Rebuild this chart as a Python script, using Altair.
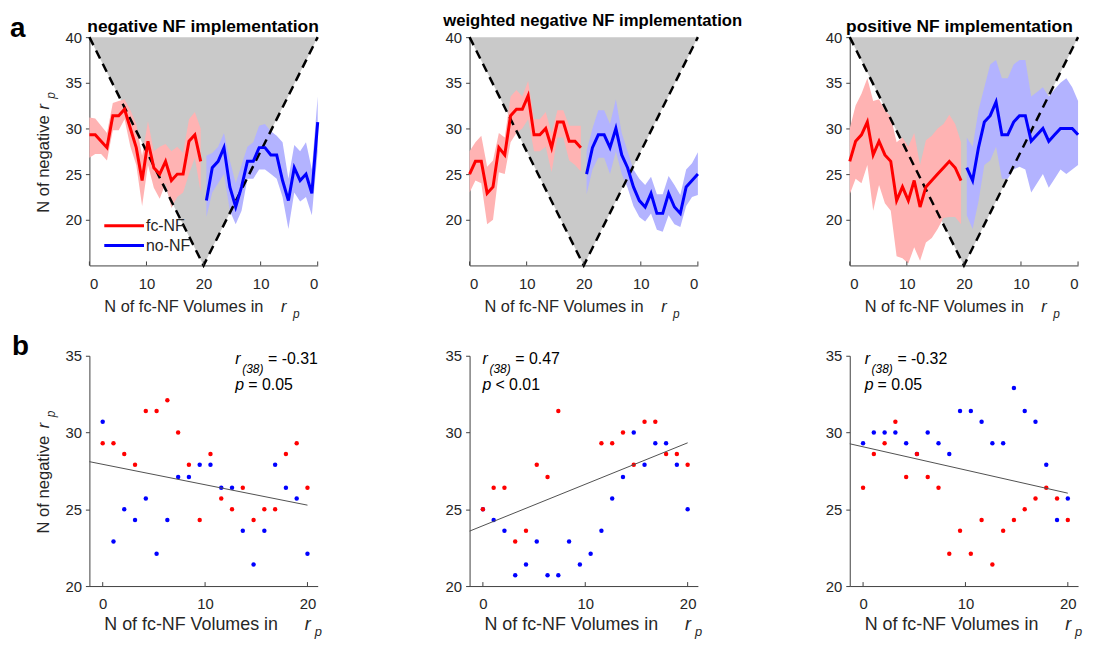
import altair as alt
import pandas as pd

FONT = "Liberation Sans"
TXT = "#262626"
AXC = "#404040"
RED_C, BLUE_C = "#ff0000", "#0000ff"
PINK, LBLUE = "#ffb3b3", "#b3b3ff"
GRAY = "#c9c9c9"

TITLES = ["negative NF implementation", "weighted negative NF implementation", "positive NF implementation"]
TITLE_CENTER = [114.5, 124, 110.5]
TITLE_SIZE = [17.5, 16.8, 17.5]
TITLE_BASE = [-5, -11, -5]
X_LABEL = "N of fc-NF Volumes in"
Y_LABEL = "N of negative"
R_STAT = ["= -0.31", "= 0.47", "= -0.32"]
P_STAT = ["= 0.05", "< 0.01", "= 0.05"]
FIT_SLOPE = [-0.133, 0.270, -0.151]
FIT_INTERCEPT = [27.93, 23.93, 29.07]
SCATTER_HIDDEN_RED = [[], [8, 9, 10], []]

# values indexed by N of fc-NF volumes (20 steps)
RED = [
    [29.3, 29.3, 28.6, 27.9, 31.4, 31.4, 32.1, 30.0, 27.9, 24.3, 28.6, 25.7, 25.0, 26.4, 24.3, 25.0, 25.0, 28.6, 29.3, 26.4],
    [25.0, 26.4, 26.4, 22.9, 23.6, 27.9, 27.1, 31.4, 32.1, 32.1, 33.6, 29.3, 29.3, 30.0, 27.9, 30.7, 30.7, 28.6, 28.6, 27.9],
    [26.4, 28.6, 29.3, 30.7, 27.1, 28.6, 27.1, 26.4, 22.1, 23.6, 22.1, 24.3, 21.4, 23.6, 24.3, 25.0, 25.7, 26.4, 25.7, 24.3],
]
BLUE = [
    [30.7, 22.9, 25.0, 24.3, 25.7, 22.1, 24.3, 27.1, 27.1, 27.9, 27.9, 26.4, 26.4, 23.6, 21.4, 23.6, 27.9, 26.4, 25.7, 22.1],
    [25.0, 24.3, 23.6, 20.7, 21.4, 22.9, 20.7, 20.7, 22.9, 21.4, 22.1, 23.6, 25.7, 27.1, 30.0, 27.9, 29.3, 29.3, 27.9, 25.0],
    [29.3, 30.0, 30.0, 30.0, 29.3, 28.6, 30.0, 29.3, 28.6, 31.4, 31.4, 30.7, 29.3, 29.3, 32.9, 31.4, 30.7, 27.9, 24.3, 25.7],
]
RED_HI = [
    [31.2, 31.1, 30.3, 29.5, 32.8, 33.0, 33.2, 32.0, 30.5, 27.0, 30.8, 27.5, 28.0, 28.3, 27.5, 28.0, 27.3, 31.0, 31.8, 30.0],
    [27.5, 28.5, 29.2, 25.8, 26.5, 29.5, 29.0, 33.5, 34.2, 33.5, 35.2, 31.0, 31.0, 31.8, 29.5, 32.0, 32.0, 30.3, 30.3, 30.3],
    [30.0, 32.5, 33.8, 35.5, 33.0, 33.2, 32.0, 31.3, 28.5, 29.0, 28.0, 29.5, 26.0, 28.7, 29.2, 30.0, 30.5, 31.5, 30.5, 28.5],
]
RED_LO = [
    [26.8, 27.2, 27.2, 26.5, 29.8, 29.8, 31.0, 28.0, 26.0, 21.5, 26.0, 23.5, 22.3, 24.0, 21.3, 22.5, 23.0, 25.0, 26.8, 23.0],
    [23.0, 24.3, 24.0, 19.5, 20.0, 25.2, 25.0, 28.5, 29.5, 30.0, 31.0, 27.5, 27.5, 28.0, 25.2, 29.0, 29.0, 26.5, 26.0, 25.3],
    [22.8, 24.5, 24.0, 26.0, 21.0, 23.8, 21.8, 21.0, 16.0, 15.8, 15.2, 17.0, 15.5, 17.5, 18.0, 19.0, 20.2, 20.3, 20.3, 19.5],
]
BLUE_HI = [
    [33.5, 25.5, 28.5, 27.5, 28.2, 24.5, 28.5, 29.2, 29.7, 30.5, 30.3, 28.5, 28.0, 26.0, 24.0, 26.5, 29.5, 28.0, 27.3, 27.0],
    [27.4, 26.2, 25.5, 22.7, 23.8, 24.8, 22.8, 22.8, 24.7, 23.8, 24.5, 25.5, 27.5, 29.5, 33.2, 30.5, 32.0, 32.0, 30.0, 27.5],
    [33.0, 34.5, 35.5, 35.0, 34.3, 33.5, 34.5, 34.0, 33.5, 37.5, 37.5, 37.0, 35.5, 35.5, 37.5, 37.0, 34.5, 32.0, 28.0, 29.0],
]
BLUE_LO = [
    [27.5, 20.5, 22.5, 22.0, 23.0, 19.0, 22.5, 24.5, 25.0, 25.5, 25.5, 24.5, 24.5, 21.0, 19.5, 21.0, 25.0, 24.0, 23.0, 20.3],
    [22.7, 22.5, 21.5, 19.2, 19.5, 20.5, 18.7, 18.9, 20.7, 19.8, 20.3, 21.5, 23.5, 25.0, 27.5, 25.0, 26.8, 26.8, 25.5, 22.8],
    [26.0, 25.5, 25.0, 25.5, 24.5, 23.5, 25.0, 24.0, 23.0, 25.5, 25.8, 25.5, 24.5, 24.5, 28.0, 26.5, 26.0, 22.0, 19.0, 20.5],
]

V_X = [0, 20, 40]
V_Y = [40, 15, 40]
V_TOP = 40
TOP_XTICKS = [0, 10, 20, 30, 40]
TOP_YTICKS = [20, 25, 30, 35, 40]
BOT_XTICKS = [0, 10, 20]
BOT_YTICKS = [20, 25, 30, 35]

W = 230
HT = 230
HB = 232
ONE = pd.DataFrame({"k": [0]})


def txt(s, x, y, size=15.0, style="normal", weight="normal", angle=0, align="left",
        baseline="alphabetic", color=TXT):
    kw = dict(text=s, font=FONT, fontSize=size, fontStyle=style, fontWeight=weight,
              align=align, baseline=baseline, color=color)
    if angle:
        kw["angle"] = angle
    return alt.Chart(ONE).mark_text(**kw).encode(x=alt.value(x), y=alt.value(y))


def ytitle(h):
    return [
        txt(Y_LABEL, -41, h - 53, size=16.7, angle=270),
        txt("r", -41, 73, size=16.7, style="italic", angle=270),
        txt("p", -35, 62, size=12, style="italic", angle=270),
    ]


def top_panel(k):
    XS = alt.Scale(domain=[0, 40], nice=False, zero=False)
    YS = alt.Scale(domain=[15, 40], nice=False, zero=False)
    XAX = alt.Axis(values=TOP_XTICKS, labelExpr="datum.value <= 20 ? datum.value : 40 - datum.value",
                   tickSize=0, labelPadding=11, title=None)
    YAX = alt.Axis(values=TOP_YTICKS, tickSize=4, labelPadding=4, title=None)

    vdf = pd.DataFrame({"x": V_X, "y": V_Y, "top": [V_TOP] * len(V_X)})
    rows = []
    for i in range(len(RED[k])):
        rows.append({"i": i, "g": "fc-NF", "v": RED[k][i], "lo": RED_LO[k][i], "hi": RED_HI[k][i]})
        rows.append({"i": i, "g": "no-NF", "v": BLUE[k][i], "lo": BLUE_LO[k][i], "hi": BLUE_HI[k][i]})
    df = pd.DataFrame(rows)
    base = alt.Chart(df).transform_calculate(
        xp="datum.g == 'fc-NF' ? datum.i * 19.5 / 19 : 40 - datum.i * 19.5 / 19")

    layers = [
        alt.Chart(vdf).mark_area(color=GRAY).encode(
            x=alt.X("x:Q", scale=XS, axis=XAX), y=alt.Y("y:Q", scale=YS, axis=YAX), y2="top:Q")
    ]
    for g, c in [("fc-NF", PINK), ("no-NF", LBLUE)]:
        layers.append(base.transform_filter(f"datum.g == '{g}'").mark_area(color=c).encode(
            x=alt.X("xp:Q", scale=XS, axis=XAX), y=alt.Y("lo:Q", scale=YS, axis=YAX), y2="hi:Q"))
    layers.append(alt.Chart(vdf).mark_line(color="black", strokeWidth=2.5, strokeDash=[9, 6]).encode(
        x=alt.X("x:Q", scale=XS, axis=XAX), y=alt.Y("y:Q", scale=YS, axis=YAX)))
    for g, c in [("fc-NF", RED_C), ("no-NF", BLUE_C)]:
        layers.append(base.transform_filter(f"datum.g == '{g}'").mark_line(color=c, strokeWidth=3).encode(
            x=alt.X("xp:Q", scale=XS, axis=XAX), y=alt.Y("v:Q", scale=YS, axis=YAX)))
    layers.append(alt.Chart(pd.DataFrame({"t": TOP_XTICKS})).mark_rule(color=AXC).encode(
        x=alt.X("t:Q", scale=XS, axis=XAX), y=alt.value(HT), y2=alt.value(HT - 4)))
    layers += [
        txt(TITLES[k], TITLE_CENTER[k], TITLE_BASE[k], size=TITLE_SIZE[k], weight="bold",
            align="center", color="black"),
        txt(X_LABEL, 15, HT + 47, size=16.5),
        txt("r", 193, HT + 47, size=16.5, style="italic"),
        txt("p", 205, HT + 53, size=12, style="italic"),
    ]
    if k == 0:
        layers += ytitle(HT)
        layers += [
            txt("a", -80, 0, size=28, weight="bold", color="black"),
            alt.Chart(ONE).mark_point(filled=True, opacity=0, size=4).encode(
                x=alt.value(-81), y=alt.value(-26)),
            alt.Chart(ONE).mark_rule(color=RED_C, strokeWidth=3).encode(
                x=alt.value(15), x2=alt.value(55), y=alt.value(190)),
            alt.Chart(ONE).mark_rule(color=BLUE_C, strokeWidth=3).encode(
                x=alt.value(15), x2=alt.value(55), y=alt.value(210)),
            txt("fc-NF", 57, 190, size=16, baseline="middle"),
            txt("no-NF", 57, 210, size=16, baseline="middle"),
        ]
    return alt.layer(*layers).properties(width=W, height=HT)


def bottom_panel(k):
    XS = alt.Scale(domain=[-1.3, 21], nice=False, zero=False)
    YS = alt.Scale(domain=[20, 35], nice=False, zero=False)
    XAX = alt.Axis(values=BOT_XTICKS, tickSize=0, labelPadding=11, title=None)
    YAX = alt.Axis(values=BOT_YTICKS, tickSize=4, labelPadding=4, title=None)

    rows = []
    for i in range(len(BLUE[k])):
        rows.append({"i": i, "g": "no-NF", "v": BLUE[k][i]})
    for i in range(len(RED[k])):
        if i not in SCATTER_HIDDEN_RED[k]:
            rows.append({"i": i, "g": "fc-NF", "v": RED[k][i]})
    df = pd.DataFrame(rows)
    xfit = [-1.3, 20]
    fdf = pd.DataFrame({"x": xfit, "y": [FIT_INTERCEPT[k] + FIT_SLOPE[k] * x for x in xfit]})

    layers = [
        alt.Chart(df).transform_calculate(xs="datum.i * 20 / 19").mark_circle(size=20, opacity=1).encode(
            x=alt.X("xs:Q", scale=XS, axis=XAX), y=alt.Y("v:Q", scale=YS, axis=YAX),
            color=alt.Color("g:N", scale=alt.Scale(domain=["fc-NF", "no-NF"], range=[RED_C, BLUE_C]),
                            legend=None)),
        alt.Chart(fdf).mark_line(color="#505050", strokeWidth=1).encode(
            x=alt.X("x:Q", scale=XS, axis=XAX), y=alt.Y("y:Q", scale=YS, axis=YAX)),
        alt.Chart(pd.DataFrame({"t": BOT_XTICKS})).mark_rule(color=AXC).encode(
            x=alt.X("t:Q", scale=XS, axis=XAX), y=alt.value(HB), y2=alt.value(HB - 4)),
        txt(X_LABEL, 15, HB + 44, size=18),
        txt("r", 217, HB + 44, size=18, style="italic"),
        txt("p", 227, HB + 50, size=13, style="italic"),
    ]
    ax = [147, 13, 15][k]
    layers += [
        txt("r", ax, 8, size=16, style="italic", color="black"),
        txt("(38)", ax + 7, 17, size=12, style="italic", color="black"),
        txt(R_STAT[k], ax + 33, 8, size=16, color="black"),
        txt("p", ax, 34, size=16, style="italic", color="black"),
        txt(P_STAT[k], ax + 13, 34, size=16, color="black"),
    ]
    if k == 0:
        layers += ytitle(HB)
        layers.append(txt("b", -78, -1, size=28, weight="bold", color="black"))
    return alt.layer(*layers).properties(width=W, height=HB)


panels = [top_panel(k) for k in range(3)] + [bottom_panel(k) for k in range(3)]
chart = alt.concat(*panels, columns=3, spacing={"row": 91, "column": 153}, bounds="flush").properties(
    padding={"left": 0, "top": 0, "right": 2, "bottom": 0}
).configure_view(stroke=None).configure_axis(
    grid=False, domainColor=AXC, tickColor=AXC, labelColor=TXT, labelFont=FONT, labelFontSize=15
)

chart.save("out.html", embed_options={"renderer": "svg", "actions": False})
